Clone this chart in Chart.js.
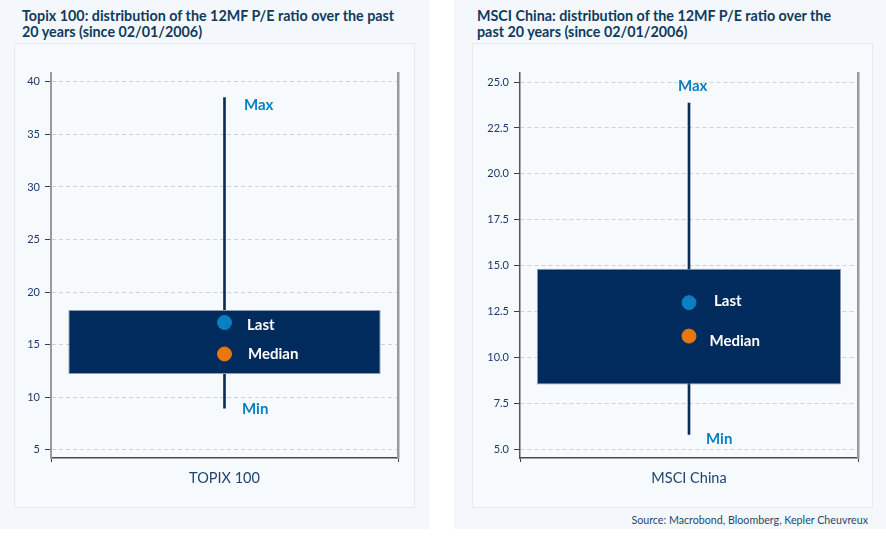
<!DOCTYPE html>
<html><head><meta charset="utf-8">
<script src="https://cdn.jsdelivr.net/npm/chart.js@4.4.1/dist/chart.umd.min.js"></script>
<style>
body{margin:0;width:886px;height:540px;background:#fff;font-family:Lato,sans-serif;position:relative;overflow:hidden}
.panel{position:absolute;top:0;height:529px;background:#f4f8fc}
.title{position:absolute;top:8px;font:bold 14.3px/16px Lato;color:#0f3b5c;white-space:nowrap}
.frame{position:absolute;top:43px;width:401px;height:465px;background:#f7fafd;border:1px solid #e6ebf0;box-sizing:border-box}
.frame canvas{position:absolute;left:0;top:0}
.source{position:absolute;right:18px;top:513px;font:10.7px Lato;color:#1f4a6e}
</style></head>
<body>
<div class="panel" style="left:0;width:429px"></div>
<div class="panel" style="left:454px;width:432px"></div>
<div class="title" style="left:22px">Topix 100: distribution of the 12MF P/E ratio over the past<br>20 years (since 02/01/2006)</div>
<div class="title" style="left:477px">MSCI China: distribution of the 12MF P/E ratio over the<br>past 20 years (since 02/01/2006)</div>
<div class="frame" style="left:14px"><canvas id="c1" width="401" height="465"></canvas></div>
<div class="frame" style="left:472px"><canvas id="c2" width="401" height="465"></canvas></div>
<div class="source">Source: Macrobond, Bloomberg, Kepler Cheuvreux</div>
<script>
// ---- data ----
const topixCategories = ['TOPIX 100'];
const topixBoxLow = [12.2];
const topixBoxHigh = [18.3];
const topixMin = [8.95];
const topixMax = [38.5];
const topixLast = [17.1];
const topixMedian = [14.1];
const topixTicks = [5, 10, 15, 20, 25, 30, 35, 40];
const topixRange = [4.2, 40.85];

const chinaCategories = ['MSCI China'];
const chinaBoxLow = [8.55];
const chinaBoxHigh = [14.85];
const chinaMin = [5.83];
const chinaMax = [23.85];
const chinaLast = [13.0];
const chinaMedian = [11.18];
const chinaTicks = [5.0, 7.5, 10.0, 12.5, 15.0, 17.5, 20.0, 22.5, 25.0];
const chinaRange = [4.55, 25.49];

const labelNames = ['Max', 'Min', 'Last', 'Median'];

function makeChart(id, o) {
  const labelPlugin = {
    id: 'lbl' + id,
    afterDatasetsDraw(chart) {
      const ctx = chart.ctx;
      const xs = chart.scales.x, ys = chart.scales.y;
      const x = xs.getPixelForValue(0);
      const vals = [o.max[0], o.min[0], o.last[0], o.median[0]];
      ctx.save();
      ctx.font = 'bold 15px Lato';
      ctx.textBaseline = 'middle';
      ctx.textAlign = 'left';
      labelNames.forEach((t, i) => {
        const off = o.offsets[i];
        ctx.fillStyle = i < 2 ? '#0a7fc0' : '#ffffff';
        ctx.fillText(t, x + off[0], ys.getPixelForValue(vals[i]) + off[1]);
      });
      ctx.restore();
    }
  };
  return new Chart(document.getElementById(id), {
    data: {
      labels: o.cats,
      datasets: [
        { type: 'bar', data: [[o.min[0], o.max[0]]], backgroundColor: '#0d2d55', barThickness: 2, grouped: false, order: 3 },
        { type: 'bar', data: [[o.low[0], o.high[0]]], backgroundColor: '#002b5c', borderColor: '#8b9bb0', borderWidth: 1, borderSkipped: false, categoryPercentage: 0.9, barPercentage: 1, grouped: false, order: 2 },
        { type: 'line', data: o.last, showLine: false, pointRadius: 7, pointHoverRadius: 7, pointBackgroundColor: '#0a80c2', pointBorderColor: '#0a80c2', order: 1 },
        { type: 'line', data: o.median, showLine: false, pointRadius: 7, pointHoverRadius: 7, pointBackgroundColor: '#e8780c', pointBorderColor: '#e8780c', order: 0 }
      ]
    },
    options: {
      responsive: false,
      animation: false,
      events: [],
      layout: { padding: { top: 29, left: 0, right: 0, bottom: 0 } },
      plugins: { legend: { display: false }, tooltip: { enabled: false } },
      scales: {
        x: {
          offset: true,
          afterFit(s) { s.height = 51; },
          grid: { display: true, drawOnChartArea: false, tickLength: 4, tickColor: '#444', offset: true },
          border: { color: '#4a4a4a', width: 1.5 },
          ticks: { color: '#1f4370', font: { family: 'Lato', size: 14.5 }, padding: 8 }
        },
        y: {
          min: o.range[0], max: o.range[1],
          afterFit(s) { s.width = o.yWidth; },
          afterBuildTicks(s) { s.ticks = o.ticks.map(v => ({ value: v })); },
          grid: { color: '#cdd2d8', tickColor: '#2a3f5f', tickLength: 6, tickBorderDash: [], lineWidth: 1 },
          border: { color: o.axisColor, width: o.axisWidth, dash: [4, 3] },
          ticks: { color: '#1b3a6b', font: { family: 'Lato', size: 11 }, padding: 5,
                   callback: v => v.toFixed(o.dec) }
        },
        y2: {
          position: 'right',
          min: o.range[0], max: o.range[1],
          afterFit(s) { s.width = o.y2Width; },
          grid: { drawOnChartArea: false, drawTicks: false },
          border: { color: '#9a9a9a', width: 2.5 },
          ticks: { display: false }
        }
      }
    },
    plugins: [labelPlugin]
  });
}

makeChart('c1', {
  cats: topixCategories, low: topixBoxLow, high: topixBoxHigh, min: topixMin, max: topixMax,
  last: topixLast, median: topixMedian, ticks: topixTicks, range: topixRange, dec: 0,
  yWidth: 36, y2Width: 18, axisColor: '#9a9a9a', axisWidth: 2,
  offsets: [[19.5, 7], [17.5, 1], [22.5, 2.5], [23.5, 0]]
});
makeChart('c2', {
  cats: chinaCategories, low: chinaBoxLow, high: chinaBoxHigh, min: chinaMin, max: chinaMax,
  last: chinaLast, median: chinaMedian, ticks: chinaTicks, range: chinaRange, dec: 1,
  yWidth: 47, y2Width: 16, axisColor: '#555555', axisWidth: 1.5,
  offsets: [[-11, -16.5], [17, 4.5], [25, -1], [20.5, 5]]
});
</script>
</body></html>
